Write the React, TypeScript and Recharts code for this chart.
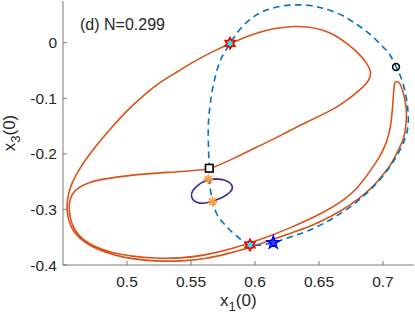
import { ComposedChart, Line, Scatter, XAxis, YAxis, Label } from "recharts";

// orbit x1(0) vs x3(0)
const trajectory = [
  [0.5643, -0.2272], [0.5531, -0.2299], [0.5375, -0.2326], [0.518, -0.2353],
  [0.4984, -0.2397], [0.4789, -0.246], [0.4688, -0.2523], [0.4617, -0.2613],
  [0.4578, -0.2703], [0.4555, -0.2811], [0.4547, -0.2937], [0.4551, -0.3081],
  [0.4563, -0.3225], [0.4594, -0.3387], [0.4656, -0.3549], [0.475, -0.3674],
  [0.4883, -0.3782], [0.5039, -0.3845], [0.5219, -0.3881], [0.5414, -0.3881],
  [0.5609, -0.3827], [0.5805, -0.3719], [0.6039, -0.3549], [0.6273, -0.3338],
  [0.6531, -0.3063], [0.6688, -0.2847], [0.6797, -0.2631], [0.6883, -0.2362],
  [0.6977, -0.2056], [0.7027, -0.1804], [0.7055, -0.157], [0.7068, -0.1354],
  [0.708, -0.1031], [0.7086, -0.0698], [0.7117, -0.0689], [0.7141, -0.0761],
  [0.7164, -0.0941], [0.718, -0.1121], [0.7186, -0.1318], [0.7176, -0.157],
  [0.7159, -0.175], [0.7109, -0.1984], [0.7055, -0.2227], [0.6992, -0.2397],
  [0.6922, -0.2595], [0.682, -0.2793], [0.6688, -0.3009], [0.6547, -0.318],
  [0.643, -0.3309], [0.6273, -0.3432], [0.6117, -0.3558], [0.5945, -0.3698],
  [0.5766, -0.3809], [0.5609, -0.389], [0.5453, -0.3926], [0.5297, -0.3935],
  [0.5141, -0.3917], [0.4984, -0.3872], [0.4828, -0.3773], [0.4711, -0.3656],
  [0.4633, -0.3531], [0.4578, -0.3387], [0.4547, -0.3225], [0.4531, -0.3045],
  [0.4531, -0.2883], [0.4543, -0.2703], [0.457, -0.2523], [0.4609, -0.2344],
  [0.4664, -0.2146], [0.4727, -0.1948], [0.4797, -0.1750], [0.4875, -0.1534],
  [0.4961, -0.1318], [0.5047, -0.1120], [0.5141, -0.0923], [0.5258, -0.0707],
  [0.5391, -0.0527], [0.5516, -0.0347], [0.5648, -0.0185], [0.5805, -0.0014],
  [0.6, 0.0174], [0.6156, 0.0264], [0.6313, 0.03], [0.643, 0.0282],
  [0.6523, 0.0237], [0.6625, 0.0138], [0.6703, 0.0013], [0.6781, -0.0131],
  [0.6836, -0.0257], [0.6883, -0.0401], [0.6906, -0.0527], [0.6902, -0.0617],
  [0.6875, -0.0725], [0.682, -0.0851], [0.6742, -0.0995], [0.6648, -0.1151],
  [0.6523, -0.13], [0.6391, -0.1444], [0.6258, -0.1597], [0.6133, -0.175],
  [0.6023, -0.1867], [0.582, -0.2101], [0.5727, -0.2191], [0.5643, -0.2272],
];

// dashed closed curve
const sectionLoop = [
  [0.5643, -0.2272], [0.5637, -0.193], [0.5635, -0.1516], [0.5645, -0.121],
  [0.566, -0.0941], [0.568, -0.0707], [0.5711, -0.0437], [0.575, -0.0221],
  [0.5805, -0.0011], [0.5898, 0.0282], [0.6023, 0.0516], [0.6156, 0.0633],
  [0.6297, 0.0678], [0.643, 0.0669], [0.6531, 0.0619], [0.6641, 0.0534],
  [0.6742, 0.0408], [0.6836, 0.0264], [0.6922, 0.0103], [0.7, -0.0077],
  [0.7055, -0.0221], [0.7102, -0.0432], [0.7133, -0.0581], [0.716, -0.0761],
  [0.718, -0.0959], [0.7191, -0.1138], [0.7198, -0.1336], [0.7191, -0.157],
  [0.7168, -0.175], [0.7145, -0.1876], [0.7102, -0.2056], [0.7047, -0.2254],
  [0.6953, -0.2523], [0.6797, -0.286], [0.6609, -0.3158], [0.643, -0.3369],
  [0.6273, -0.35], [0.6143, -0.3597], [0.6055, -0.3638], [0.5961, -0.3638],
  [0.5898, -0.3558], [0.5828, -0.3423], [0.5766, -0.3279], [0.5713, -0.3129],
  [0.568, -0.2955], [0.5664, -0.2811], [0.5652, -0.2649], [0.5645, -0.2469],
  [0.5643, -0.2272],
];

const smallLoop = [
  [0.5688, -0.245], [0.5758, -0.247], [0.5805, -0.2525], [0.5823, -0.2597],
  [0.5809, -0.2678], [0.5758, -0.2768], [0.5695, -0.2832], [0.5633, -0.2877],
  [0.557, -0.2886], [0.5523, -0.2841], [0.5504, -0.276], [0.5512, -0.267],
  [0.5547, -0.258], [0.5602, -0.2499], [0.5688, -0.245],
];

const redStars = [[0.5805, -0.0011], [0.5961, -0.3639]];
const blueStars = [[0.6143, -0.3597]];
const orangeStars = [[0.5635, -0.2457], [0.567, -0.286]];
const squares = [[0.5643, -0.2259]];
const circles = [[0.7102, -0.0437]];

const xTicks = [0.5, 0.55, 0.6, 0.65, 0.7];
const yTicks = [-0.4, -0.3, -0.2, -0.1, 0];

const FONT = "'Liberation Sans', Arial, Helvetica, sans-serif";
const AXIS = "#7a7a7a";

const rows = (pts: number[][]) => pts.map(([x, y]) => ({ x, y }));

const starPoints = (cx: number, cy: number, n: number, R: number, r: number) => {
  const out: string[] = [];
  for (let i = 0; i < n * 2; i++) {
    const a = -Math.PI / 2 + (i * Math.PI) / n;
    const rad = i % 2 === 0 ? R : r;
    out.push(`${cx + rad * Math.cos(a)},${cy + rad * Math.sin(a)}`);
  }
  return out.join(" ");
};

const Hexagram = (p: any) => (
  <polygon points={starPoints(p.cx, p.cy, 6, 5.5, 5.5 / Math.sqrt(3))} fill="#00ffff" stroke="#ff0000" strokeWidth={1.8} />
);
const Pentagram = (p: any) => (
  <polygon points={starPoints(p.cx, p.cy, 5, 6.5, 2.6)} fill="#2a44ff" stroke="#0000ff" strokeWidth={1.5} />
);
const Asterisk = (p: any) => {
  const r = 5;
  const d = r * Math.SQRT1_2;
  const { cx, cy } = p;
  return (
    <path
      d={`M${cx - r},${cy}L${cx + r},${cy}M${cx},${cy - r}L${cx},${cy + r}M${cx - d},${cy - d}L${cx + d},${cy + d}M${cx - d},${cy + d}L${cx + d},${cy - d}`}
      stroke="#ff9a3a"
      strokeWidth={1.6}
      fill="none"
    />
  );
};
const Square = (p: any) => (
  <rect x={p.cx - 3.8} y={p.cy - 3.8} width={7.6} height={7.6} fill="#ffffff" stroke="#000000" strokeWidth={1.6} />
);
const Ring = (p: any) => <circle cx={p.cx} cy={p.cy} r={3.4} fill="none" stroke="#000000" strokeWidth={1.6} />;

const noLabel = () => "";

const App = () => {
  return (
    <div style={{ position: "absolute", left: 0, top: 0, width: 415, height: 317, fontFamily: FONT }}>
      <ComposedChart width={415} height={317} margin={{ top: 1, right: 1.3, bottom: 0, left: 0 }}>
        <XAxis
          xAxisId="b"
          type="number"
          dataKey="x"
          domain={[0.45, 0.724]}
          allowDataOverflow
          ticks={xTicks}
          interval={0}
          height={52}
          stroke={AXIS}
          tickSize={-4}
          tickMargin={15}
          tick={{ fontSize: 15.5, fill: "#262626", fontFamily: FONT }}
        >
          <Label
            content={(p: any) => {
              const vb = p.viewBox;
              return (
                <text x={vb.x + vb.width / 2} y={306} textAnchor="middle" fontSize={17} fill="#262626" fontFamily={FONT}>
                  <tspan>x</tspan>
                  <tspan dy={5} fontSize={13}>1</tspan>
                  <tspan dy={-5}>(0)</tspan>
                </text>
              );
            }}
          />
        </XAxis>
        <XAxis
          xAxisId="t"
          orientation="top"
          type="number"
          domain={[0.45, 0.724]}
          allowDataOverflow
          ticks={xTicks}
          interval={0}
          height={0}
          stroke={AXIS}
          tickSize={-4}
          tickFormatter={noLabel}
        />
        <YAxis
          yAxisId="l"
          type="number"
          domain={[-0.4, 0.075]}
          allowDataOverflow
          ticks={yTicks}
          interval={0}
          width={63}
          stroke={AXIS}
          tickSize={-4}
          tickMargin={10}
          tick={{ fontSize: 15.5, fill: "#262626", fontFamily: FONT }}
        >
          <Label
            content={(p: any) => {
              const vb = p.viewBox;
              const cx = 15;
              const cy = vb.y + vb.height / 2;
              return (
                <text
                  x={cx}
                  y={cy}
                  transform={`rotate(-90 ${cx} ${cy})`}
                  textAnchor="middle"
                  fontSize={17}
                  fill="#262626"
                  fontFamily={FONT}
                >
                  <tspan>x</tspan>
                  <tspan dy={5} fontSize={13}>3</tspan>
                  <tspan dy={-5}>(0)</tspan>
                </text>
              );
            }}
          />
        </YAxis>
        <YAxis
          yAxisId="r"
          orientation="right"
          type="number"
          domain={[-0.4, 0.075]}
          allowDataOverflow
          ticks={yTicks}
          interval={0}
          width={0}
          stroke={AXIS}
          tickSize={-4}
          tickFormatter={noLabel}
        />

        <Line
          xAxisId="b"
          yAxisId="l"
          data={rows(trajectory)}
          dataKey="y"
          type="basis"
          stroke="#D95319"
          strokeWidth={1.6}
          dot={false}
          activeDot={false}
          isAnimationActive={false}
        />
        <Line
          xAxisId="b"
          yAxisId="l"
          data={rows(sectionLoop)}
          dataKey="y"
          type="natural"
          stroke="#0072BD"
          strokeWidth={1.6}
          strokeDasharray="6.5 4.5"
          dot={false}
          activeDot={false}
          isAnimationActive={false}
        />
        <Line
          xAxisId="b"
          yAxisId="l"
          data={rows(smallLoop)}
          dataKey="y"
          type="natural"
          stroke="#332c99"
          strokeWidth={1.6}
          dot={false}
          activeDot={false}
          isAnimationActive={false}
        />

        <Scatter xAxisId="b" yAxisId="l" data={rows(squares)} dataKey="y" shape={Square} isAnimationActive={false} />
        <Scatter xAxisId="b" yAxisId="l" data={rows(orangeStars)} dataKey="y" shape={Asterisk} isAnimationActive={false} />
        <Scatter xAxisId="b" yAxisId="l" data={rows(redStars)} dataKey="y" shape={Hexagram} isAnimationActive={false} />
        <Scatter xAxisId="b" yAxisId="l" data={rows(blueStars)} dataKey="y" shape={Pentagram} isAnimationActive={false} />
        <Scatter xAxisId="b" yAxisId="l" data={rows(circles)} dataKey="y" shape={Ring} isAnimationActive={false} />
      </ComposedChart>
      <svg width={415} height={317} style={{ position: "absolute", left: 0, top: 0, pointerEvents: "none" }}>
        <text x={80} y={30} fontSize={16} fill="#262626" fontFamily={FONT}>
          (d) N=0.299
        </text>
      </svg>
    </div>
  );
};

export default App;
